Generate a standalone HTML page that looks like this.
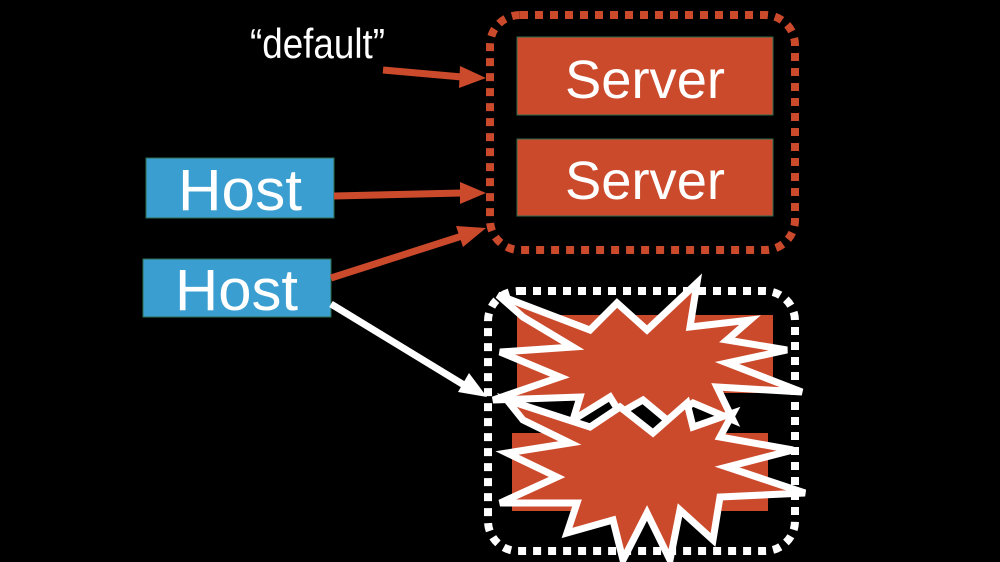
<!DOCTYPE html>
<html><head><meta charset="utf-8"><style>
html,body{margin:0;padding:0;background:#000;}
svg{display:block}
</style></head><body>
<svg width="1000" height="562" viewBox="0 0 1000 562" xmlns="http://www.w3.org/2000/svg">
<rect width="1000" height="562" fill="#000"/>
<!-- top group -->
<rect x="490" y="15" width="305" height="235" rx="30" fill="none" stroke="#cc4a2c" stroke-width="8" stroke-dasharray="8 7"/>
<rect x="517" y="37" width="256" height="78" fill="#cc4a2c" stroke="#2f6b4f" stroke-width="1"/>
<rect x="517" y="139" width="256" height="77" fill="#cc4a2c" stroke="#2f6b4f" stroke-width="1"/>
<text x="565" y="98" font-family="Liberation Sans, sans-serif" font-size="54" fill="#fff" textLength="160" lengthAdjust="spacingAndGlyphs">Server</text>
<text x="565" y="199" font-family="Liberation Sans, sans-serif" font-size="54" fill="#fff" textLength="160" lengthAdjust="spacingAndGlyphs">Server</text>
<text x="250" y="58" font-family="Liberation Sans, sans-serif" font-size="42" fill="#fff" textLength="135" lengthAdjust="spacingAndGlyphs">“default”</text>
<!-- hosts -->
<rect x="146" y="158" width="188" height="60" fill="#3a9fd0" stroke="#2f6b4f" stroke-width="1"/>
<text x="178" y="210" font-family="Liberation Sans, sans-serif" font-size="58" fill="#fff" textLength="124" lengthAdjust="spacingAndGlyphs">Host</text>
<rect x="143" y="259" width="188" height="58" fill="#3a9fd0" stroke="#2f6b4f" stroke-width="1"/>
<text x="175" y="310" font-family="Liberation Sans, sans-serif" font-size="58" fill="#fff" textLength="123" lengthAdjust="spacingAndGlyphs">Host</text>
<!-- arrows -->
<line x1="383" y1="70" x2="462" y2="77" stroke="#cc4a2c" stroke-width="7"/>
<path d="M460,66 L486,78 L459,88 Z" fill="#cc4a2c"/>
<line x1="334" y1="196" x2="462" y2="193" stroke="#cc4a2c" stroke-width="7"/>
<path d="M460,182 L486,193 L460,204 Z" fill="#cc4a2c"/>
<line x1="331" y1="278" x2="462" y2="236" stroke="#cc4a2c" stroke-width="7"/>
<path d="M456,226 L486,228 L463,247 Z" fill="#cc4a2c"/>
<line x1="331" y1="304" x2="464" y2="385" stroke="#fff" stroke-width="7"/>
<path d="M469,373 L487,397 L458,392 Z" fill="#fff"/>
<!-- bottom group -->
<rect x="488" y="291" width="307" height="260" rx="30" fill="none" stroke="#fff" stroke-width="8" stroke-dasharray="8 7"/>
<rect x="517" y="315" width="256" height="78" fill="#cc4a2c"/>
<rect x="512" y="433" width="256" height="78" fill="#cc4a2c"/>
<polygon fill="#cc4a2c" stroke="#fff" stroke-width="7" stroke-linejoin="miter" points="498,295 590,330 617,303 647,330 697,283 690,327 750,320 727,340 787,350 727,363 802,392 717,387 733,420 693,403 667,420 643,400 620,413 610,397 573,420 580,397 493,400 560,377 500,352 573,347 523,317"/>
<polygon fill="#cc4a2c" stroke="#fff" stroke-width="7" stroke-linejoin="miter" points="507,400 590,427 620,407 653,433 687,403 693,427 733,413 720,437 793,450 727,467 805,493 720,497 713,540 680,510 670,560 647,513 623,560 613,520 567,533 577,503 500,503 557,477 507,453 570,443 523,420"/>
</svg>
</body></html>
